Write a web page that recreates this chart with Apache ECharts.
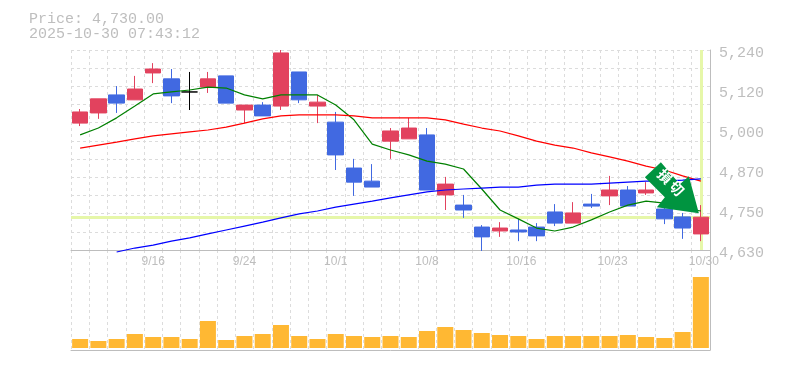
<!DOCTYPE html>
<html><head><meta charset="utf-8">
<style>html,body{margin:0;padding:0;background:#fff}#c{width:785px;height:370px}</style>
<script src="https://cdn.jsdelivr.net/npm/echarts@6/dist/echarts.min.js"></script>
</head><body><div id="c"></div>
<script>
const titleLines = ['Price: 4,730.00', '2025-10-30 07:43:12'];
const categories = ['9/10','9/11','9/12','9/15','9/16','9/17','9/18','9/19','9/22','9/24','9/25','9/26','9/29','9/30','10/1','10/2','10/3','10/6','10/7','10/8','10/9','10/10','10/14','10/15','10/16','10/17','10/20','10/21','10/22','10/23','10/24','10/27','10/28','10/29','10/30'];
const shownDates = ['9/16','9/24','10/1','10/8','10/16','10/23','10/30'];
const opens  = [5017,5048,5103,5088,5170,5152,5112,5127,5161,5057,5072,5069,5173,5069,5020,4880,4840,4962,4969,4981,4798,4767,4700,4688,4691,4700,4746,4712,4770,4795,4813,4804,4755,4731,4679];
const closes = [5051,5091,5078,5121,5182,5100,5112,5152,5078,5072,5039,5231,5088,5081,4920,4837,4822,4993,5002,4813,4831,4752,4670,4697,4685,4673,4712,4743,4764,4813,4764,4813,4725,4697,4730];
const lows   = [5008,5030,5048,5088,5139,5078,5057,5109,5078,5017,5039,5057,5078,5017,4874,4795,4822,4908,4969,4813,4752,4728,4627,4670,4657,4657,4703,4712,4758,4767,4764,4798,4709,4664,4657];
const highs  = [5060,5091,5130,5161,5200,5182,5173,5173,5161,5072,5081,5240,5173,5103,5051,4908,4892,5002,5033,5002,4853,4798,4706,4715,4725,4712,4770,4776,4801,4856,4825,4837,4770,4743,4767];
const maShort = [4981,5002,5033,5069,5106,5112,5118,5127,5124,5103,5091,5103,5103,5103,5072,5027,4953,4935,4920,4901,4892,4877,4816,4752,4725,4697,4688,4700,4722,4746,4767,4779,4773,4758,4749];
const maMid   = [4941,4950,4959,4969,4978,4984,4990,4996,5005,5017,5030,5039,5042,5042,5042,5039,5033,5033,5033,5033,5027,5014,5002,4993,4978,4962,4950,4941,4926,4914,4901,4886,4874,4856,4840];
const maLong  = [null,null,4624,4636,4645,4657,4667,4679,4691,4703,4715,4728,4740,4749,4761,4770,4779,4789,4798,4807,4813,4816,4819,4822,4822,4828,4831,4831,4831,4834,4837,4840,4840,4843,4847];
const volumes = [9,7,9,14,11,11,9,27,8,12,14,23,12,9,14,12,11,12,11,17,21,18,15,13,12,9,12,12,12,12,13,11,10,16,71];
const priceTicks = [4630,4752,4874,4996,5118,5240];
const priceTickLabels = ['4,630','4,750','4,870','5,000','5,120','5,240'];
const gridValues = [4630,4685.5,4741,4796.4,4851.8,4907.3,4962.7,5018.2,5073.6,5129.1,5184.5,5240];
const lastPrice = 4730;
const badge = '損\u2009切';

const GREY='#bdbdbd', TEXT='#bebebe', UP='#e2425e', DOWN='#4169e1', LIME='#e6f7a9', DASH='#dcdcdc', ARROW='#009440';
const arrowPath='path://M16 0 L35 22 L44 14 L54 51 L12 45 L20 35 L0 15 Z';
const candle = categories.map((c,i)=>{
  const doji = opens[i]===closes[i], up = closes[i]>opens[i];
  const col = doji?'#000':up?UP:DOWN;
  return {value:[opens[i],closes[i],lows[i],highs[i]],itemStyle:{color:col,color0:col,borderColor:col,borderColor0:col,borderColorDoji:col}};
});
const catAxis = (gridIndex,extra)=>Object.assign({type:'category',gridIndex,data:categories,boundaryGap:true,
  axisTick:{show:false},axisLine:{show:true,onZero:false,lineStyle:{color:GREY,width:1}},
  splitLine:{show:true,interval:0,lineStyle:{color:DASH,type:[3,3],width:1}}},extra);
const chart = echarts.init(document.getElementById('c'),null,{renderer:'canvas'});
chart.setOption({
  animation:false,
  backgroundColor:'#fff',
  title:{left:29,top:12,padding:0,text:titleLines.join('\n'),textStyle:{fontFamily:'Liberation Mono',fontSize:15,fontWeight:'normal',color:TEXT,lineHeight:15}},
  grid:[{left:71,right:75,top:50,height:200},{left:71,right:75,top:250,height:100}],
  xAxis:[
    catAxis(0,{axisLabel:{show:true,interval:(i,v)=>shownDates.includes(v),margin:6,color:TEXT,fontFamily:'Liberation Sans',fontSize:12,
      formatter:v=>v.length>4?'{w|'+v+'}':v,rich:{w:{padding:[0,0,0,6],color:TEXT,fontFamily:'Liberation Sans',fontSize:12}}}}),
    catAxis(1,{axisLabel:{show:false}})
  ],
  yAxis:[
    {type:'value',gridIndex:0,position:'right',min:4630,max:5240,scale:true,
      axisLine:{show:true,lineStyle:{color:GREY}},
      axisTick:{show:false,customValues:gridValues},
      splitLine:{show:true,lineStyle:{color:DASH,type:[3,3],width:1}},
      axisLabel:{show:true,customValues:priceTicks,margin:9,verticalAlign:'top',lineHeight:6,color:TEXT,fontFamily:'Liberation Mono',fontSize:15,
        formatter:v=>priceTickLabels[priceTicks.indexOf(v)]||''}},
    {type:'value',gridIndex:1,position:'right',min:-2,max:98,
      axisLine:{show:true,lineStyle:{color:GREY}},axisTick:{show:false},splitLine:{show:false},axisLabel:{show:false}}
  ],
  series:[
    {type:'line',xAxisIndex:0,yAxisIndex:0,data:[],z:1,silent:true,
      markLine:{silent:true,symbol:'none',label:{show:false},animation:false,z:1,lineStyle:{color:LIME,width:3,type:'solid'},
        data:[{yAxis:lastPrice},{xAxis:categories.length-1}]}},
    {type:'candlestick',xAxisIndex:0,yAxisIndex:0,data:candle,barWidth:16,z:3,clip:false,
      markPoint:{silent:true,z:9,animation:false,data:[{coord:[categories.length-1,lastPrice],symbol:arrowPath,symbolKeepAspect:false,symbolSize:[54,51],symbolOffset:[-29,-29.5],
        itemStyle:{color:ARROW},label:{show:true,position:'inside',offset:[-4.5,-3],rotate:-45,formatter:badge,color:'#fff',fontSize:14,fontWeight:'bold',fontFamily:'Noto Sans CJK JP'}}]}},
    {type:'line',xAxisIndex:0,yAxisIndex:0,data:maShort,z:4,showSymbol:false,symbol:'none',clip:false,lineStyle:{color:'#008000',width:1.2}},
    {type:'line',xAxisIndex:0,yAxisIndex:0,data:maMid,z:4,showSymbol:false,symbol:'none',clip:false,lineStyle:{color:'#ff0000',width:1.2}},
    {type:'line',xAxisIndex:0,yAxisIndex:0,data:maLong,z:4,showSymbol:false,symbol:'none',clip:false,lineStyle:{color:'#0000ff',width:1.2}},
    {type:'bar',xAxisIndex:1,yAxisIndex:1,data:volumes,barWidth:16,z:3,itemStyle:{color:'#ffb833'}}
  ]
});
</script></body></html>
